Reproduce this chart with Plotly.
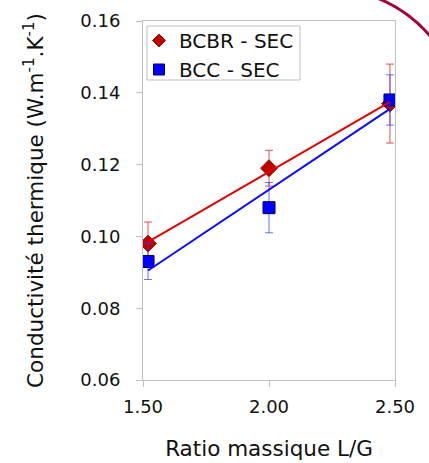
import numpy as np
import plotly.graph_objects as go

# Ratio massique L/G (x) and thermal conductivity (y) with error bars
ratio_bcbr = [1.52, 2.00, 2.48]
cond_bcbr = [0.098, 0.119, 0.137]
err_bcbr = [0.006, 0.005, 0.011]

ratio_bcc = [1.52, 2.00, 2.48]
cond_bcc = [0.093, 0.108, 0.138]
err_bcc = [0.005, 0.007, 0.007]

series_names = ["BCBR - SEC", "BCC - SEC"]
x_ticks = [1.50, 2.00, 2.50]
y_ticks = [0.06, 0.08, 0.10, 0.12, 0.14, 0.16]

FONT = "DejaVu Sans"
GRID = "#bfbfbf"
RED, RED_EDGE = "#c00000", "#8a1a00"
BLUE, BLUE_EDGE = "#0000ff", "#000060"

fig = go.Figure()

fig.add_trace(go.Scatter(
    x=ratio_bcbr, y=cond_bcbr, mode="markers", name=series_names[0],
    showlegend=False,
    marker=dict(symbol="diamond", size=13, color=RED,
                line=dict(color=RED_EDGE, width=1)),
    error_y=dict(type="data", array=err_bcbr, color="rgba(220,40,40,0.8)",
                 thickness=1, width=4),
))
fig.add_trace(go.Scatter(
    x=ratio_bcc, y=cond_bcc, mode="markers", name=series_names[1],
    showlegend=False,
    marker=dict(symbol="square", size=12, color=BLUE,
                line=dict(color=BLUE_EDGE, width=1)),
    error_y=dict(type="data", array=err_bcc, color="rgba(60,60,255,0.75)",
                 thickness=1, width=4),
))

# Linear trend lines fitted to each series
for xs, ys, col in [(ratio_bcbr, cond_bcbr, "#e00000"), (ratio_bcc, cond_bcc, "#0a0aff")]:
    slope, icpt = np.polyfit(xs, ys, 1)
    xl = np.array([min(xs), max(xs)])
    fig.add_trace(go.Scatter(x=xl, y=slope * xl + icpt, mode="lines",
                             line=dict(color=col, width=2), showlegend=False,
                             hoverinfo="skip"))

# Legend keys (smaller symbols than the data markers)
fig.add_trace(go.Scatter(x=[None], y=[None], mode="markers", name=series_names[0],
                         marker=dict(symbol="diamond", size=10, color=RED,
                                     line=dict(color=RED_EDGE, width=1))))
fig.add_trace(go.Scatter(x=[None], y=[None], mode="markers", name=series_names[1],
                         marker=dict(symbol="square", size=11, color=BLUE,
                                     line=dict(color=BLUE_EDGE, width=1))))

# Page geometry (pixels) and conversion to paper coordinates
L, R, T, B = 143, 34, 21, 83
W, H = 429, 463
pw, ph = W - L - R, H - T - B


def px(x):
    return (x - L) / pw


def py(y):
    return (H - B - y) / ph


# Legend frame
fig.add_shape(type="rect", xref="paper", yref="paper", layer="above",
              x0=px(147), x1=px(300), y0=py(80), y1=py(26),
              line=dict(color=GRID, width=1), fillcolor="white")

# Decorative arc in the top-right corner
p0, ctrl, p2 = (377, -2), (408, 10), (431, 37)
arc = "M {:.4f},{:.4f} Q {:.4f},{:.4f} {:.4f},{:.4f}".format(
    px(p0[0]), py(p0[1]), px(ctrl[0]), py(ctrl[1]), px(p2[0]), py(p2[1]))
fig.add_shape(type="path", xref="paper", yref="paper", path=arc,
              line=dict(color="#a3003a", width=3))

axis_common = dict(
    showgrid=False, zeroline=False, showline=True, linecolor=GRID, linewidth=1,
    mirror=True, ticks="outside", ticklen=6, tickcolor=GRID,
    tickfont=dict(family=FONT, size=18, color="#111"),
)

fig.update_layout(
    width=W, height=H,
    margin=dict(l=L, r=R, t=T, b=B, autoexpand=False),
    paper_bgcolor="white", plot_bgcolor="white",
    font=dict(family=FONT, color="#111"),
    xaxis=dict(range=[1.5, 2.5], tickvals=x_ticks,
               ticktext=[f"{v:.2f}" for v in x_ticks],
               ticklabelstandoff=4,
               title=dict(text="Ratio massique L/G", font=dict(family=FONT, size=21.5),
                          standoff=25),
               **axis_common),
    yaxis=dict(range=[0.06, 0.16], tickvals=y_ticks,
               ticktext=[f"{v:.2f}" for v in y_ticks],
               ticklabelstandoff=12,
               title=dict(text="Conductivité thermique (W.m<sup>-1</sup>.K<sup>-1</sup>)",
                          font=dict(family=FONT, size=21.5), standoff=30),
               **axis_common),
    legend=dict(x=px(147), y=py(21), xanchor="left", yanchor="top",
                bgcolor="rgba(0,0,0,0)", borderwidth=0, indentation=-8,
                font=dict(family=FONT, size=20, color="#111"),
                tracegroupgap=0, itemwidth=30),
    showlegend=True,
)

fig.write_html("out.html")
